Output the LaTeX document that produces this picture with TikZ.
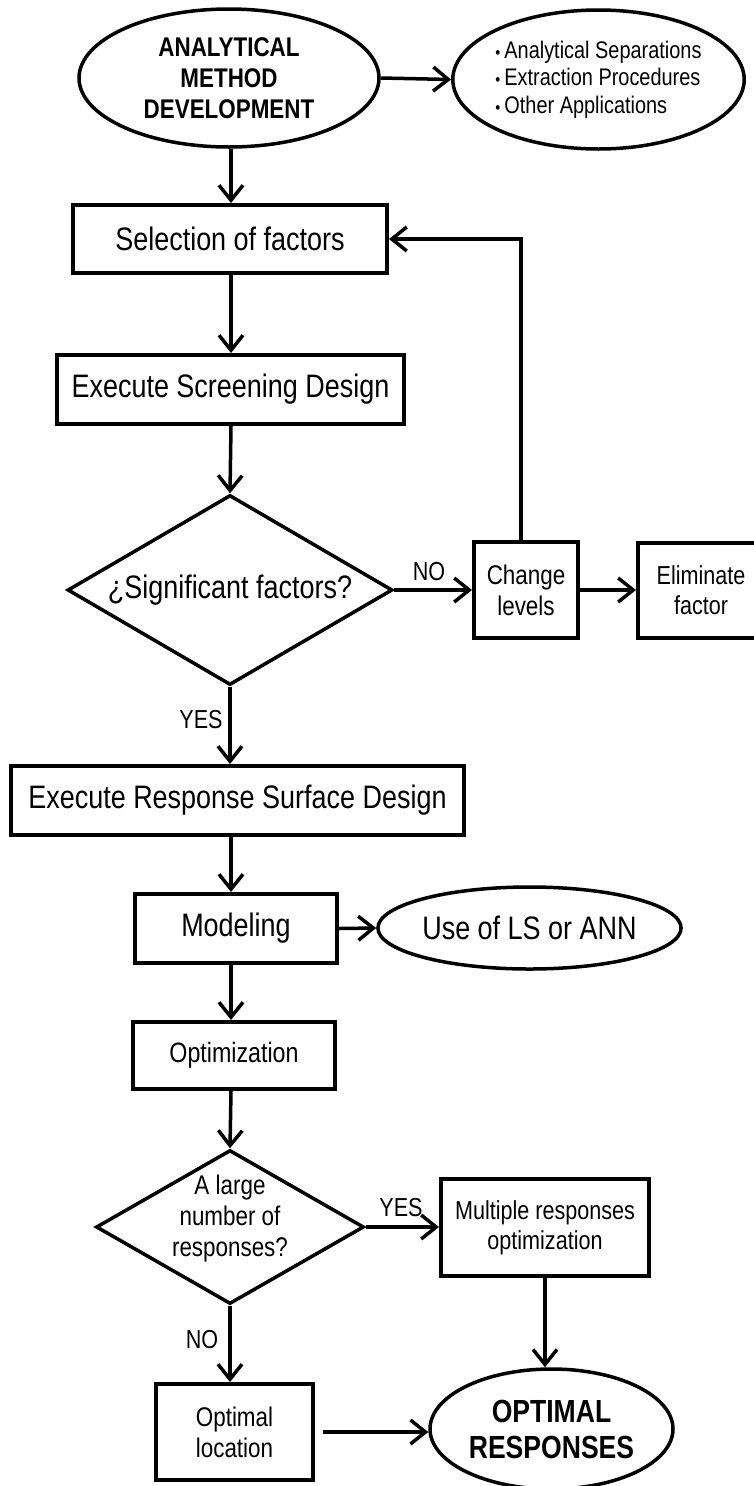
\documentclass[tikz,border=0pt]{standalone}
\usepackage{fontspec}
\setmainfont{Liberation Sans}[FakeStretch=0.83]
\usetikzlibrary{shapes.geometric,arrows.meta}
\newcommand\fsz[2]{\fontsize{#1}{#2}\selectfont}
\begin{document}
\begin{tikzpicture}[x=1pt,y=-1pt,
  box/.style={draw,line width=4pt,rectangle,inner sep=0pt,align=center},
  ell/.style={draw,line width=3.5pt,ellipse,inner sep=0pt,align=center},
  dia/.style={draw,line width=3.5pt,diamond,inner sep=0pt,align=center},
  arr/.style={line width=3.5pt,-{Straight Barb[length=15pt,width=24pt]}},
  lbl/.style={inner sep=0pt,font=\fsz{26}{30}},
  big/.style={font=\fsz{32.5}{37}},
  mid/.style={font=\fsz{27}{31}},
]
\useasboundingbox (0,0) rectangle (754,1486);
\clip (0,0) rectangle (754,1486);
\coordinate (ax) at (231,0);
\coordinate (lx) at (521,0);
% nodes
\node[ell,minimum width=300pt,minimum height=138pt,font=\bfseries\fsz{27}{31}] (amd) at (229,78) {ANALYTICAL\\METHOD\\DEVELOPMENT};
\node[ell,minimum width=279pt,minimum height=139pt,align=left,font=\fsz{24}{27.5}] (apps) at (598.5,79.5)
  {{\fsz{17}{0}\textbullet}\,Analytical Separations\\{\fsz{17}{0}\textbullet}\,Extraction Procedures\\{\fsz{17}{0}\textbullet}\,Other Applications};
\node[box,big,minimum width=314pt,minimum height=68pt] (sel) at (230,239) {Selection of factors};
\node[box,big,minimum width=347pt,minimum height=69pt] (scr) at (230.5,389.5) {Execute Screening Design};
\node[dia,minimum width=325pt,minimum height=190pt,
  label={[big,align=center]center:¿Significant factors?}] (dia1) at (230,590) {};
\node[box,mid,minimum width=104pt,minimum height=96pt] (chg) at (526,590) {Change\\levels};
\node[box,font=\fsz{26}{30},minimum width=126pt,minimum height=95pt] (elim) at (701,590) {Eliminate\\factor};
\node[box,big,minimum width=453pt,minimum height=69pt] (rsd) at (237.5,800.5) {Execute Response Surface Design};
\node[box,big,minimum width=202pt,minimum height=69pt] (mod) at (236,928.5) {Modeling};
\node[ell,big,minimum width=265pt,minimum height=82pt] (ls) at (529.5,928) {Use of LS or ANN};
\node[box,font=\fsz{28}{32},minimum width=202pt,minimum height=67pt] (opt) at (234,1055.5) {Optimization};
\node[dia,minimum width=268pt,minimum height=154pt,
  label={[mid,align=center,yshift=8pt]center:A large\\number of\\responses?}] (dia2) at (230,1227) {};
\node[box,font=\fsz{26}{30},minimum width=208pt,minimum height=97pt] (mult) at (545,1227.5) {Multiple responses\\optimization};
\node[box,mid,minimum width=157pt,minimum height=96pt] (loc) at (234.5,1432) {Optimal\\location};
\node[ell,font=\bfseries\fsz{32}{36},minimum width=243pt,minimum height=120pt] (res) at (551.5,1429) {OPTIMAL\\RESPONSES};
% labels
\node[lbl] (no1) at (429,572) {NO};
\node[lbl] (yes1) at (201,720) {YES};
\node[lbl] (yes2) at (401,1208) {YES};
\node[lbl] (no2) at (202,1340) {NO};
% connectors
\draw[arr] (amd.east) -- (apps.west);
\draw[arr] (amd.south -| ax) -- (sel.north -| ax);
\draw[arr] (sel.south -| ax) -- (scr.north -| ax);
\draw[arr] (scr.south -| ax) -- (dia1.north);
\draw[arr] (dia1.east) -- (chg.west);
\draw[arr] (chg.east) -- (elim.west);
\draw[arr] (chg.north -| lx) |- (sel.east);
\draw[arr] (dia1.south) -- (rsd.north -| dia1.south);
\draw[arr] (rsd.south -| ax) -- (mod.north -| ax);
\draw[arr] (mod.east) -- (ls.west);
\draw[arr] (mod.south -| ax) -- (opt.north -| ax);
\draw[arr] (opt.south -| ax) -- (dia2.north);
\draw[arr] (dia2.east) -- (mult.west |- dia2.east);
\draw[arr] (mult.south) -- (mult.south |- res.north);
\draw[arr] (dia2.south) -- (loc.north -| dia2.south);
\draw[arr,shorten <=8pt] (loc.east) -- (loc.east -| res.west);
\end{tikzpicture}
\end{document}
